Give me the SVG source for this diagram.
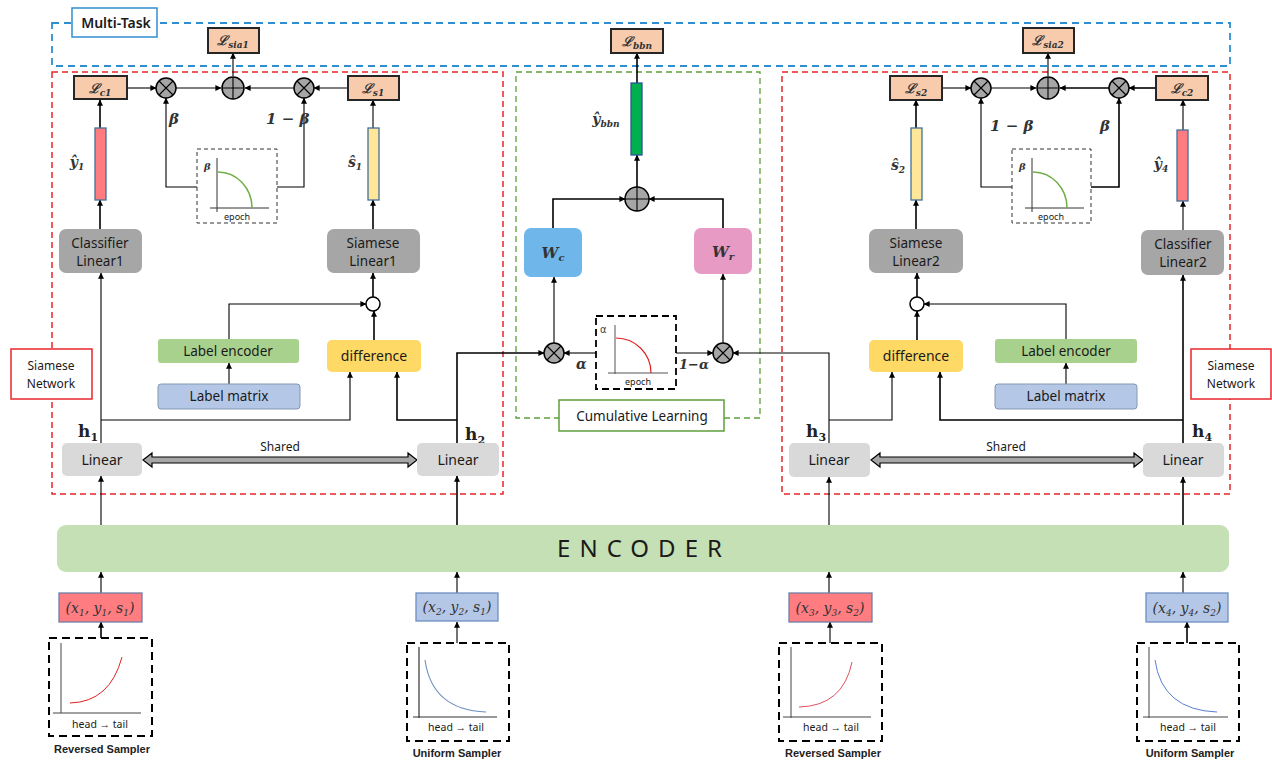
<svg xmlns="http://www.w3.org/2000/svg" width="1272" height="760" viewBox="0 0 1272 760">
<defs>
<marker id="ah" viewBox="0 0 8 8" refX="7.5" refY="4" markerWidth="6" markerHeight="6" markerUnits="userSpaceOnUse" orient="auto"><path d="M0,0 L8,4 L0,8 z" fill="#000"/></marker>
<style>
.ln{fill:none;stroke:#000;stroke-width:1.6}
.lnt{fill:none;stroke:#000;stroke-width:1.1}
.loss{fill:#F8CBAD;stroke:#262626;stroke-width:2}
.sans{font-family:"Noto Sans","Open Sans","Liberation Sans",sans-serif;fill:#1a1a1a}
.math{font-family:"DejaVu Serif","Liberation Serif",serif;font-style:italic;font-weight:bold;fill:#333}
.tup{font-family:"DejaVu Serif","Liberation Serif",serif;font-style:italic;font-weight:normal;fill:#333}
.bold{font-family:"Liberation Sans","Noto Sans",sans-serif;font-weight:bold;fill:#222}
.gbox{fill:#A6A6A6}
.lbox{fill:#D9D9D9}
.op{fill:#A6A6A6;stroke:#000;stroke-width:1.5}
.dash{fill:none;stroke:#000;stroke-width:2;stroke-dasharray:8 5}
.dashthin{fill:#fff;stroke:#333;stroke-width:1;stroke-dasharray:4 3}
</style>
</defs>
<rect width="1272" height="760" fill="#fff"/>

<!-- containers -->
<g id="containers">
<rect x="52" y="23" width="1178" height="43" fill="none" stroke="#2E8FD0" stroke-width="1.8" stroke-dasharray="7 5"/>
<rect x="52" y="72" width="451" height="422" fill="none" stroke="#E8262B" stroke-width="1.5" stroke-dasharray="6 4"/>
<rect x="782" y="72" width="448" height="422" fill="none" stroke="#E8262B" stroke-width="1.5" stroke-dasharray="6 4"/>
<rect x="516" y="72" width="244" height="346" fill="none" stroke="#5E9E3B" stroke-width="1.3" stroke-dasharray="6 4"/>
</g>

<g id="multitask-label"><rect x="72" y="8" width="85" height="29" fill="#fff" stroke="#2E8FD0" stroke-width="1.5"/><text x="116" y="28" class="sans" font-size="14" font-weight="600" text-anchor="middle">Multi-Task</text></g>
<g id="cumulative-label"><rect x="559" y="400" width="165" height="31" fill="#fff" stroke="#5E9E3B" stroke-width="1.5"/><text x="642" y="421" class="sans" font-size="13.5" text-anchor="middle">Cumulative Learning</text></g>
<g id="siamese-label-left"><rect x="11" y="349" width="81" height="50" fill="#fff" stroke="#E8262B" stroke-width="1.5"/><text x="51" y="370" class="sans" font-size="12" text-anchor="middle">Siamese</text><text x="51" y="388" class="sans" font-size="12" text-anchor="middle">Network</text></g>
<g id="siamese-label-right"><rect x="1191" y="349" width="80" height="50" fill="#fff" stroke="#E8262B" stroke-width="1.5"/><text x="1231" y="370" class="sans" font-size="12" text-anchor="middle">Siamese</text><text x="1231" y="388" class="sans" font-size="12" text-anchor="middle">Network</text></g>

<!-- connectors -->
<g id="connectors">
<path class="lnt" d="M127,88 H156" marker-end="url(#ah)"/>
<path class="lnt" d="M176,88 H221" marker-end="url(#ah)"/>
<path class="lnt" d="M348,88 H314" marker-end="url(#ah)"/>
<path class="lnt" d="M294,88 H245" marker-end="url(#ah)"/>
<path class="lnt" d="M233,76 V53" marker-end="url(#ah)"/>
<path class="ln" d="M100,128 V100" marker-end="url(#ah)"/>
<path class="ln" d="M100,229 V200" marker-end="url(#ah)"/>
<path class="lnt" d="M373,128 V100" marker-end="url(#ah)"/>
<path class="ln" d="M373,229 V200" marker-end="url(#ah)"/>
<path class="lnt" d="M197,187 H166 V98" marker-end="url(#ah)"/>
<path class="lnt" d="M277,187 H304 V98" marker-end="url(#ah)"/>
<path class="ln" d="M373,297 V273" marker-end="url(#ah)"/>
<path class="lnt" d="M229,339 V304 H366" marker-end="url(#ah)"/>
<path class="ln" d="M374,340 V311" marker-end="url(#ah)"/>
<path class="lnt" d="M229,384 V363" marker-end="url(#ah)"/>
<path class="lnt" d="M101,443 V273" marker-end="url(#ah)"/>
<path class="lnt" d="M101,420 H350 V372" marker-end="url(#ah)"/>
<path class="ln" d="M457,443 V353 H544" marker-end="url(#ah)"/>
<path class="ln" d="M457,420 H397 V372" marker-end="url(#ah)"/>
<path class="lnt" d="M101,525 V476" marker-end="url(#ah)"/>
<path class="ln" d="M457,525 V476" marker-end="url(#ah)"/>
<path class="ln" d="M637,83 V53" marker-end="url(#ah)"/>
<path class="ln" d="M637,187 V155" marker-end="url(#ah)"/>
<path class="ln" d="M553,228 V199 H625" marker-end="url(#ah)"/>
<path class="ln" d="M723,228 V199 H649" marker-end="url(#ah)"/>
<path class="lnt" d="M554,343 V277" marker-end="url(#ah)"/>
<path class="lnt" d="M723,343 V274" marker-end="url(#ah)"/>
<path class="lnt" d="M596,353 H564" marker-end="url(#ah)"/>
<path class="lnt" d="M676,353 H713" marker-end="url(#ah)"/>
<path class="lnt" d="M829,443 V353 H733" marker-end="url(#ah)"/>
<path class="lnt" d="M942,88 H971" marker-end="url(#ah)"/>
<path class="lnt" d="M991,88 H1036" marker-end="url(#ah)"/>
<path class="ln" d="M1156,88 H1129" marker-end="url(#ah)"/>
<path class="ln" d="M1109,88 H1060" marker-end="url(#ah)"/>
<path class="lnt" d="M1048,76 V53" marker-end="url(#ah)"/>
<path class="ln" d="M916,128 V100" marker-end="url(#ah)"/>
<path class="ln" d="M916,229 V200" marker-end="url(#ah)"/>
<path class="lnt" d="M1183,130 V100" marker-end="url(#ah)"/>
<path class="lnt" d="M1183,230 V201" marker-end="url(#ah)"/>
<path class="lnt" d="M1012,187 H981 V98" marker-end="url(#ah)"/>
<path class="ln" d="M1091,187 H1119 V98" marker-end="url(#ah)"/>
<path class="ln" d="M917,297 V273" marker-end="url(#ah)"/>
<path class="lnt" d="M1066,339 V304 H924" marker-end="url(#ah)"/>
<path class="ln" d="M917,340 V311" marker-end="url(#ah)"/>
<path class="lnt" d="M1066,384 V363" marker-end="url(#ah)"/>
<path class="lnt" d="M829,420 H892 V372" marker-end="url(#ah)"/>
<path class="ln" d="M1183,443 V275" marker-end="url(#ah)"/>
<path class="ln" d="M1183,420 H940 V372" marker-end="url(#ah)"/>
<path class="lnt" d="M829,525 V477" marker-end="url(#ah)"/>
<path class="ln" d="M1183,525 V477" marker-end="url(#ah)"/>
<path class="lnt" d="M101,593 V572" marker-end="url(#ah)"/>
<path class="lnt" d="M457,593 V572" marker-end="url(#ah)"/>
<path class="lnt" d="M829,593 V572" marker-end="url(#ah)"/>
<path class="lnt" d="M1183,593 V572" marker-end="url(#ah)"/>
<path class="ln" d="M101,638 V622" marker-end="url(#ah)"/>
<path class="lnt" d="M457,643 V622" marker-end="url(#ah)"/>
<path class="lnt" d="M830,643 V622" marker-end="url(#ah)"/>
<path class="ln" d="M1187,643 V622" marker-end="url(#ah)"/>
<path d="M143,460 L152,453 L152,457 L408,457 L408,453 L417,460 L408,467 L408,463 L152,463 L152,467 Z" fill="#A6A6A6" stroke="#000" stroke-width="1.2"/>
<path d="M871,460 L880,453 L880,457 L1134,457 L1134,453 L1143,460 L1134,467 L1134,463 L880,463 L880,467 Z" fill="#A6A6A6" stroke="#000" stroke-width="1.2"/>
</g>

<!-- edge labels -->
<g id="edge-labels">
<text x="169" y="124" class="math" font-size="15">β</text>
<text x="266" y="124" class="math" font-size="15">1 − β</text>
<text x="990" y="131" class="math" font-size="15">1 − β</text>
<text x="1100" y="131" class="math" font-size="15">β</text>
<text x="576" y="369" class="math" font-size="14">α</text>
<text x="679" y="369" class="math" font-size="13">1−α</text>
<text x="280" y="451" class="sans" font-size="12" text-anchor="middle" fill="#444">Shared</text>
<text x="1006" y="451" class="sans" font-size="12" text-anchor="middle" fill="#444">Shared</text>
<text x="78" y="437" font-family="DejaVu Serif,serif" font-weight="bold" font-size="17" fill="#222">h<tspan font-size="11" dy="4">1</tspan></text>
<text x="465" y="440" font-family="DejaVu Serif,serif" font-weight="bold" font-size="17" fill="#222">h<tspan font-size="11" dy="4">2</tspan></text>
<text x="806" y="437" font-family="DejaVu Serif,serif" font-weight="bold" font-size="17" fill="#222">h<tspan font-size="11" dy="4">3</tspan></text>
<text x="1192" y="437" font-family="DejaVu Serif,serif" font-weight="bold" font-size="17" fill="#222">h<tspan font-size="11" dy="4">4</tspan></text>
</g>

<!-- loss nodes -->
<g id="L-sia1"><rect class="loss" x="208" y="28" width="51" height="25"/><text x="233" y="45" class="math" font-size="13" text-anchor="middle">ℒ<tspan font-size="9" dy="3">sia1</tspan></text></g>
<g id="L-bbn"><rect class="loss" x="611" y="29" width="52" height="24"/><text x="637" y="46" class="math" font-size="13" text-anchor="middle">ℒ<tspan font-size="9" dy="3">bbn</tspan></text></g>
<g id="L-sia2"><rect class="loss" x="1023" y="28" width="51" height="25"/><text x="1048" y="45" class="math" font-size="13" text-anchor="middle">ℒ<tspan font-size="9" dy="3">sia2</tspan></text></g>
<g id="L-c1"><rect class="loss" x="74" y="76" width="53" height="23"/><text x="100" y="93" class="math" font-size="13" text-anchor="middle">ℒ<tspan font-size="9" dy="3">c1</tspan></text></g>
<g id="L-s1"><rect class="loss" x="348" y="76" width="51" height="24"/><text x="373" y="93" class="math" font-size="13" text-anchor="middle">ℒ<tspan font-size="9" dy="3">s1</tspan></text></g>
<g id="L-s2"><rect class="loss" x="890" y="76" width="52" height="24"/><text x="916" y="93" class="math" font-size="13" text-anchor="middle">ℒ<tspan font-size="9" dy="3">s2</tspan></text></g>
<g id="L-c2"><rect class="loss" x="1156" y="76" width="52" height="24"/><text x="1182" y="93" class="math" font-size="13" text-anchor="middle">ℒ<tspan font-size="9" dy="3">c2</tspan></text></g>

<!-- operators -->
<g id="otimes-1"><circle class="op" cx="166" cy="88" r="10"/><path class="lnt" d="M159,81 L173,95 M173,81 L159,95"/></g>
<g id="oplus-1"><circle class="op" cx="233" cy="88" r="11"/><path class="lnt" d="M222,88 H244 M233,77 V99"/></g>
<g id="otimes-2"><circle class="op" cx="304" cy="88" r="10"/><path class="lnt" d="M297,81 L311,95 M311,81 L297,95"/></g>
<g id="otimes-3"><circle class="op" cx="981" cy="88" r="10"/><path class="lnt" d="M974,81 L988,95 M988,81 L974,95"/></g>
<g id="oplus-2"><circle class="op" cx="1048" cy="88" r="11"/><path class="lnt" d="M1037,88 H1059 M1048,77 V99"/></g>
<g id="otimes-4"><circle class="op" cx="1119" cy="88" r="10"/><path class="lnt" d="M1112,81 L1126,95 M1126,81 L1112,95"/></g>
<g id="oplus-bbn"><circle class="op" cx="637" cy="199" r="12"/><path class="lnt" d="M625,199 H649 M637,187 V211"/></g>
<g id="otimes-alpha"><circle class="op" cx="554" cy="353" r="10"/><path class="lnt" d="M547,346 L561,360 M561,346 L547,360"/></g>
<g id="otimes-1alpha"><circle class="op" cx="723" cy="353" r="10"/><path class="lnt" d="M716,346 L730,360 M730,346 L716,360"/></g>
<g id="concat-1"><circle cx="373" cy="304" r="7" fill="#fff" stroke="#000" stroke-width="1.5"/></g>
<g id="concat-2"><circle cx="917" cy="304" r="7" fill="#fff" stroke="#000" stroke-width="1.5"/></g>

<!-- beta graphs -->
<g id="beta-graph-1">
<rect class="dashthin" x="197" y="149" width="80" height="74"/>
<path d="M217,158 V212 M210,208 H269" stroke="#333" stroke-width="1" fill="none"/>
<path d="M218,172 A34,36 0 0 1 252,208" stroke="#70AD47" stroke-width="1.5" fill="none"/>
<text x="204" y="170" class="math" font-size="10" fill="#777">β</text>
<text x="237" y="220" class="sans" font-size="9" text-anchor="middle" fill="#444">epoch</text>
</g>
<g id="beta-graph-2">
<rect class="dashthin" x="1012" y="149" width="79" height="74"/>
<path d="M1032,158 V212 M1025,208 H1084" stroke="#333" stroke-width="1" fill="none"/>
<path d="M1033,172 A34,36 0 0 1 1067,208" stroke="#70AD47" stroke-width="1.5" fill="none"/>
<text x="1019" y="170" class="math" font-size="10" fill="#777">β</text>
<text x="1051" y="220" class="sans" font-size="9" text-anchor="middle" fill="#444">epoch</text>
</g>
<g id="alpha-graph">
<rect x="596" y="316" width="80" height="73" fill="#fff" stroke="#000" stroke-width="1.8" stroke-dasharray="7 4"/>
<path d="M615,325 V374 M608,373 H668" stroke="#555" stroke-width="1" fill="none"/>
<path d="M616,338 A35,35 0 0 1 651,373" stroke="#E02020" stroke-width="1.2" fill="none"/>
<text x="600" y="333" font-family="DejaVu Sans,sans-serif" font-size="10" fill="#444">α</text>
<text x="638" y="385" class="sans" font-size="9" text-anchor="middle" fill="#444">epoch</text>
</g>

<!-- output bars -->
<g id="yhat1"><rect x="95" y="128" width="11" height="72" fill="#FF7C80" stroke="#41719C" stroke-width="1.3"/><text x="77" y="167" class="math" font-size="14" text-anchor="middle">ŷ<tspan font-size="9" dy="3">1</tspan></text></g>
<g id="shat1"><rect x="368" y="128" width="11" height="72" fill="#FFE699" stroke="#41719C" stroke-width="1.3"/><text x="355" y="167" class="math" font-size="14" text-anchor="middle">ŝ<tspan font-size="9" dy="3">1</tspan></text></g>
<g id="shat2"><rect x="911" y="128" width="11" height="72" fill="#FFE699" stroke="#41719C" stroke-width="1.3"/><text x="898" y="170" class="math" font-size="14" text-anchor="middle">ŝ<tspan font-size="9" dy="3">2</tspan></text></g>
<g id="yhat4"><rect x="1177" y="130" width="11" height="71" fill="#FF7C80" stroke="#41719C" stroke-width="1.3"/><text x="1161" y="169" class="math" font-size="14" text-anchor="middle">ŷ<tspan font-size="9" dy="3">4</tspan></text></g>
<g id="yhat-bbn"><rect x="631" y="83" width="11" height="72" fill="#00B050" stroke="#2F5597" stroke-width="1.3"/><text x="606" y="124" class="math" font-size="14" text-anchor="middle">ŷ<tspan font-size="9" dy="3">bbn</tspan></text></g>

<!-- gray linear nodes -->
<g id="classifier-linear1"><rect class="gbox" x="59" y="229" width="83" height="44" rx="7"/><text x="100" y="248" class="sans" font-size="13.5" text-anchor="middle">Classifier</text><text x="100" y="266" class="sans" font-size="13.5" text-anchor="middle">Linear1</text></g>
<g id="siamese-linear1"><rect class="gbox" x="327" y="229" width="93" height="44" rx="7"/><text x="373" y="248" class="sans" font-size="13.5" text-anchor="middle">Siamese</text><text x="373" y="266" class="sans" font-size="13.5" text-anchor="middle">Linear1</text></g>
<g id="siamese-linear2"><rect class="gbox" x="869" y="229" width="94" height="44" rx="7"/><text x="916" y="248" class="sans" font-size="13.5" text-anchor="middle">Siamese</text><text x="916" y="266" class="sans" font-size="13.5" text-anchor="middle">Linear2</text></g>
<g id="classifier-linear2"><rect class="gbox" x="1141" y="230" width="83" height="45" rx="7"/><text x="1183" y="249" class="sans" font-size="13.5" text-anchor="middle">Classifier</text><text x="1183" y="267" class="sans" font-size="13.5" text-anchor="middle">Linear2</text></g>

<g id="W-c"><rect x="524" y="228" width="58" height="49" rx="7" fill="#6FB7EA"/><text x="553" y="258" class="math" font-size="15" text-anchor="middle">W<tspan font-size="10" dy="3">c</tspan></text></g>
<g id="W-r"><rect x="694" y="228" width="58" height="46" rx="7" fill="#E69AC4"/><text x="723" y="257" class="math" font-size="15" text-anchor="middle">W<tspan font-size="10" dy="3">r</tspan></text></g>

<!-- label encoders / difference -->
<g id="label-encoder-1"><rect x="158" y="339" width="141" height="24" rx="3" fill="#A9D18E"/><text x="228" y="356" class="sans" font-size="13.5" text-anchor="middle">Label encoder</text></g>
<g id="label-matrix-1"><rect x="158" y="384" width="142" height="25" rx="3" fill="#B4C7E7" stroke="#8497B0" stroke-width="1"/><text x="229" y="401" class="sans" font-size="13.5" text-anchor="middle">Label matrix</text></g>
<g id="difference-1"><rect x="327" y="340" width="94" height="32" rx="5" fill="#FFD966"/><text x="374" y="361" class="sans" font-size="14" text-anchor="middle">difference</text></g>
<g id="difference-2"><rect x="869" y="340" width="94" height="32" rx="5" fill="#FFD966"/><text x="916" y="361" class="sans" font-size="14" text-anchor="middle">difference</text></g>
<g id="label-encoder-2"><rect x="995" y="339" width="142" height="24" rx="3" fill="#A9D18E"/><text x="1066" y="356" class="sans" font-size="13.5" text-anchor="middle">Label encoder</text></g>
<g id="label-matrix-2"><rect x="995" y="384" width="142" height="25" rx="3" fill="#B4C7E7" stroke="#8497B0" stroke-width="1"/><text x="1066" y="401" class="sans" font-size="13.5" text-anchor="middle">Label matrix</text></g>

<!-- Linear -->
<g id="linear-1"><rect class="lbox" x="62" y="443" width="80" height="33" rx="5"/><text x="102" y="465" class="sans" font-size="14" text-anchor="middle">Linear</text></g>
<g id="linear-2"><rect class="lbox" x="417" y="443" width="82" height="33" rx="5"/><text x="458" y="465" class="sans" font-size="14" text-anchor="middle">Linear</text></g>
<g id="linear-3"><rect class="lbox" x="789" y="443" width="81" height="34" rx="5"/><text x="829" y="465" class="sans" font-size="14" text-anchor="middle">Linear</text></g>
<g id="linear-4"><rect class="lbox" x="1143" y="443" width="81" height="34" rx="5"/><text x="1183" y="465" class="sans" font-size="14" text-anchor="middle">Linear</text></g>

<!-- encoder -->
<g id="encoder"><rect x="57" y="525" width="1172" height="47" rx="9" fill="#C5E0B4"/><text x="644" y="557" class="sans" font-size="24" text-anchor="middle" letter-spacing="9" fill="#222">ENCODER</text></g>

<!-- inputs -->
<g id="input-1"><rect x="59" y="593" width="83" height="29" fill="#FF7C80" stroke="#6F7FA8" stroke-width="1.3"/><text x="100" y="613" class="tup" font-size="14" text-anchor="middle">(x<tspan font-size="9" dy="3">1</tspan><tspan dy="-3">, y</tspan><tspan font-size="9" dy="3">1</tspan><tspan dy="-3">, s</tspan><tspan font-size="9" dy="3">1</tspan><tspan dy="-3">)</tspan></text></g>
<g id="input-2"><rect x="416" y="593" width="82" height="28" fill="#B4C7E7" stroke="#6F8FC0" stroke-width="1.3"/><text x="457" y="612" class="tup" font-size="14" text-anchor="middle">(x<tspan font-size="9" dy="3">2</tspan><tspan dy="-3">, y</tspan><tspan font-size="9" dy="3">2</tspan><tspan dy="-3">, s</tspan><tspan font-size="9" dy="3">1</tspan><tspan dy="-3">)</tspan></text></g>
<g id="input-3"><rect x="789" y="593" width="83" height="29" fill="#FF7C80" stroke="#6F7FA8" stroke-width="1.3"/><text x="830" y="613" class="tup" font-size="14" text-anchor="middle">(x<tspan font-size="9" dy="3">3</tspan><tspan dy="-3">, y</tspan><tspan font-size="9" dy="3">3</tspan><tspan dy="-3">, s</tspan><tspan font-size="9" dy="3">2</tspan><tspan dy="-3">)</tspan></text></g>
<g id="input-4"><rect x="1146" y="593" width="82" height="29" fill="#B4C7E7" stroke="#6F8FC0" stroke-width="1.3"/><text x="1187" y="613" class="tup" font-size="14" text-anchor="middle">(x<tspan font-size="9" dy="3">4</tspan><tspan dy="-3">, y</tspan><tspan font-size="9" dy="3">4</tspan><tspan dy="-3">, s</tspan><tspan font-size="9" dy="3">2</tspan><tspan dy="-3">)</tspan></text></g>

<!-- samplers -->
<g id="sampler-1">
<rect class="dash" x="49" y="638" width="103" height="98"/>
<path d="M61,643 V713 M53,713 H141" stroke="#444" stroke-width="1" fill="none"/>
<path d="M70,703 Q110,702 122,657" stroke="#E02020" stroke-width="1" fill="none"/>
<text x="100" y="728" class="sans" font-size="10.5" text-anchor="middle">head → tail</text>
<text x="102" y="753" class="bold" font-size="11" text-anchor="middle">Reversed Sampler</text>
</g>
<g id="sampler-2">
<rect class="dash" x="407" y="643" width="102" height="98"/>
<path d="M419,647 V718 M413,717 H497" stroke="#333" stroke-width="1.2" fill="none"/>
<path d="M425,660 Q432,710 486,712" stroke="#6F8FC0" stroke-width="1.1" fill="none"/>
<text x="456" y="731" class="sans" font-size="10.5" text-anchor="middle">head → tail</text>
<text x="457" y="757" class="bold" font-size="11" text-anchor="middle">Uniform Sampler</text>
</g>
<g id="sampler-3">
<rect class="dash" x="779" y="643" width="103" height="98"/>
<path d="M791,647 V718 M783,717 H871" stroke="#444" stroke-width="1" fill="none"/>
<path d="M799,707 Q843,706 852,662" stroke="#E05060" stroke-width="1" fill="none"/>
<text x="831" y="731" class="sans" font-size="10.5" text-anchor="middle">head → tail</text>
<text x="833" y="757" class="bold" font-size="11" text-anchor="middle">Reversed Sampler</text>
</g>
<g id="sampler-4">
<rect class="dash" x="1137" y="643" width="102" height="98"/>
<path d="M1149,647 V718 M1143,717 H1228" stroke="#444" stroke-width="1" fill="none"/>
<path d="M1155,660 Q1162,710 1217,712" stroke="#5A7FD0" stroke-width="1" fill="none"/>
<text x="1188" y="731" class="sans" font-size="10.5" text-anchor="middle">head → tail</text>
<text x="1190" y="757" class="bold" font-size="11" text-anchor="middle">Uniform Sampler</text>
</g>
</svg>
